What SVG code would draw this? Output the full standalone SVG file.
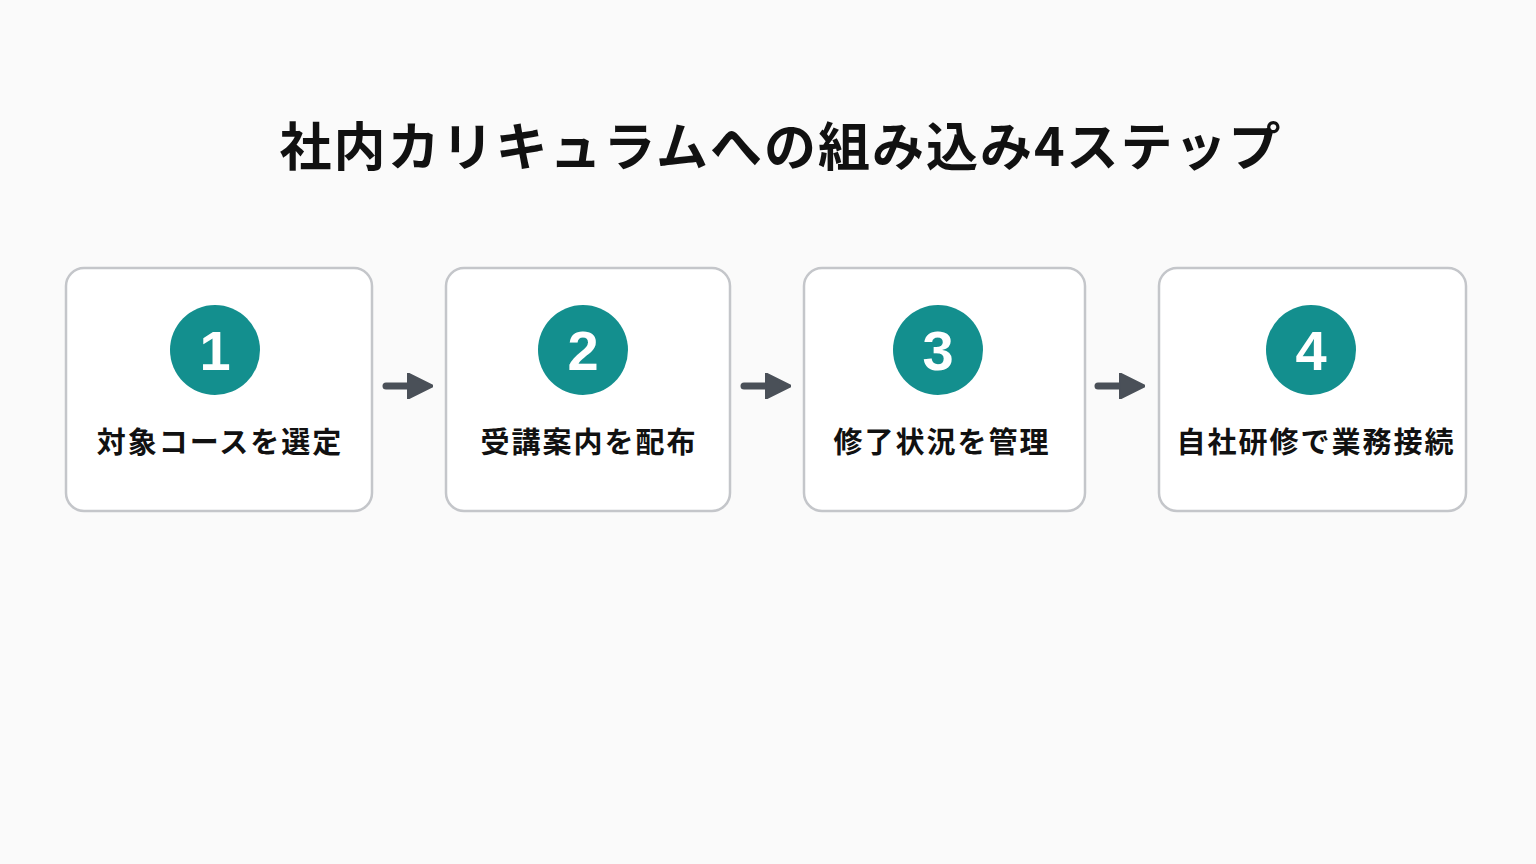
<svg xmlns="http://www.w3.org/2000/svg" width="1536" height="864" viewBox="0 0 1536 864">
<style>
.box{fill:#fff;stroke:#c4c6ca;stroke-width:2.5}
.c{fill:#138f8e}
.n{font-family:"Liberation Sans",Arial,sans-serif;font-weight:bold;font-size:56px;fill:#fff;text-anchor:middle}
.t{font-family:"Noto Sans CJK JP",sans-serif;font-weight:bold;font-size:29px;fill:#111;text-anchor:middle;letter-spacing:2px}
.a{stroke:#4a5058;stroke-width:7;stroke-linecap:round;fill:none}
</style>
<defs><marker id="h" viewBox="0 0 10 10" refX="5" refY="5" markerWidth="3.6" markerHeight="3.6" orient="auto" markerUnits="strokeWidth"><path d="M0,0 L10,5 L0,10 z" fill="#4a5058" stroke="#4a5058" stroke-linejoin="round"/></marker></defs>
<rect width="1536" height="864" fill="#fafafa"/>
<text x="781" y="166" font-family="Noto Sans CJK JP,sans-serif" font-weight="bold" font-size="52" fill="#111" text-anchor="middle" letter-spacing="2">社内カリキュラムへの組み込み4ステップ</text>
<g id="n1"><rect class="box" x="66" y="268" width="306" height="243" rx="18"/><circle class="c" cx="215" cy="350" r="45"/><text class="n" x="215" y="370">1</text><text class="t" x="220" y="453">対象コースを選定</text></g>
<g id="n2"><rect class="box" x="446" y="268" width="284" height="243" rx="18"/><circle class="c" cx="583" cy="350" r="45"/><text class="n" x="583" y="370">2</text><text class="t" x="589" y="453">受講案内を配布</text></g>
<g id="n3"><rect class="box" x="804" y="268" width="281" height="243" rx="18"/><circle class="c" cx="938" cy="350" r="45"/><text class="n" x="938" y="370">3</text><text class="t" x="942" y="453">修了状況を管理</text></g>
<g id="n4"><rect class="box" x="1159" y="268" width="307" height="243" rx="18"/><circle class="c" cx="1311" cy="350" r="45"/><text class="n" x="1311" y="370">4</text><text class="t" x="1316" y="453">自社研修で業務接続</text></g>
<g id="connectors">
<line class="a" x1="386" y1="386" x2="420" y2="386" marker-end="url(#h)"/>
<line class="a" x1="744" y1="386" x2="778" y2="386" marker-end="url(#h)"/>
<line class="a" x1="1098" y1="386" x2="1132" y2="386" marker-end="url(#h)"/>
</g>
</svg>
